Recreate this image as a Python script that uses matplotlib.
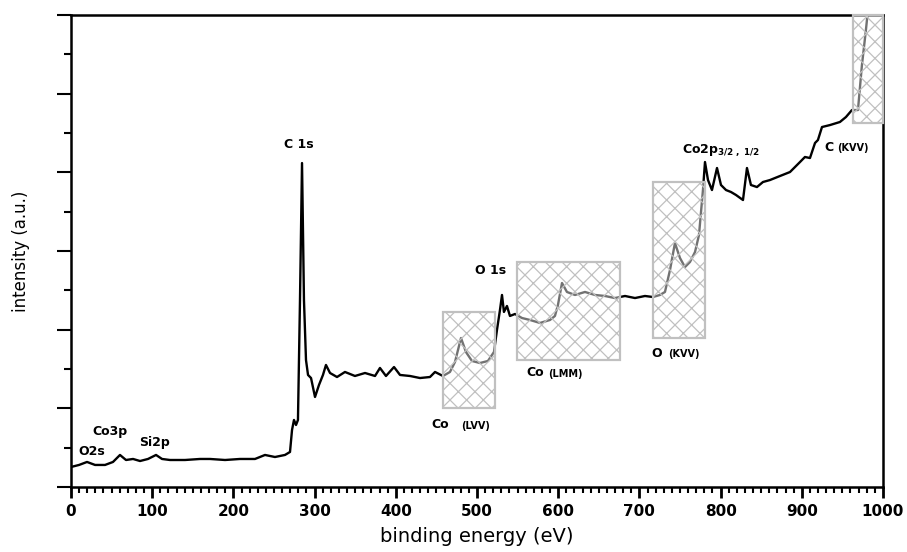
# XPS survey spectrum with shaded Auger regions.
import numpy as np
import matplotlib.pyplot as plt
from matplotlib.patches import Rectangle
from matplotlib.ticker import MultipleLocator

# Spectrum: binding energy (eV) and intensity (a.u.).
energy = [0.0, 9.9, 19.7, 29.6, 41.9, 51.7, 60.3, 67.7, 76.4, 85.0, 94.8, 104.7,
          112.1, 121.9, 140.4, 158.9, 171.2, 189.7, 208.1, 226.6, 238.9, 251.2,
          263.5, 269.7, 272.2, 274.6, 277.1, 279.5, 282.0, 284.5, 286.9, 289.4,
          291.9, 295.6, 300.5, 305.4, 310.3, 314.0, 319.0, 327.6, 337.4, 349.7,
          362.1, 374.4, 380.5, 387.9, 397.8, 405.2, 417.5, 429.8, 442.1, 448.3,
          458.1, 466.7, 472.9, 480.3, 486.4, 493.8, 503.7, 513.5, 520.9, 524.6,
          528.3, 530.8, 533.2, 536.9, 540.6, 546.8, 555.4, 565.3, 577.6, 589.9,
          596.0, 599.7, 604.7, 610.8, 620.7, 633.0, 645.3, 657.6, 669.9, 682.3,
          694.6, 706.9, 716.7, 725.3, 731.5, 737.7, 743.8, 750.0, 756.1, 762.3,
          768.5, 773.4, 778.3, 780.8, 784.5, 789.4, 795.6, 800.5, 806.7, 812.8,
          819.0, 827.6, 832.5, 837.4, 844.8, 852.2, 860.8, 873.1, 885.5, 897.8,
          903.9, 910.1, 916.3, 919.9, 924.9, 934.7, 947.0, 954.4, 961.8, 969.2,
          974.1, 979.0, 981.5]
intensity = [0.254, 0.28, 0.318, 0.28, 0.28, 0.318, 0.407, 0.343, 0.356, 0.33, 0.356, 0.407,
             0.356, 0.343, 0.343, 0.356, 0.356, 0.343, 0.356, 0.356, 0.407, 0.381,
             0.407, 0.445, 0.725, 0.852, 0.788, 0.852, 2.377, 4.118, 2.377, 1.614,
             1.424, 1.385, 1.144, 1.297, 1.424, 1.551, 1.449, 1.398, 1.462, 1.411,
             1.449, 1.411, 1.513, 1.411, 1.525, 1.424, 1.411, 1.385, 1.398, 1.462,
             1.411, 1.462, 1.589, 1.894, 1.716, 1.602, 1.576, 1.602, 1.716, 1.996,
             2.250, 2.441, 2.225, 2.301, 2.174, 2.199, 2.148, 2.123, 2.085, 2.123,
             2.174, 2.313, 2.593, 2.479, 2.441, 2.479, 2.441, 2.428, 2.402, 2.428,
             2.402, 2.428, 2.415, 2.441, 2.479, 2.758, 3.101, 2.911, 2.796, 2.860,
             2.987, 3.203, 3.775, 4.131, 3.902, 3.775, 4.055, 3.839, 3.775, 3.750,
             3.712, 3.648, 4.055, 3.839, 3.813, 3.877, 3.902, 3.953, 4.004, 4.131,
             4.195, 4.182, 4.373, 4.411, 4.576, 4.601, 4.640, 4.703, 4.792, 4.792,
             5.364, 5.809, 6.06]

# Hatched regions: (start eV, end eV, low, high).
regions = [(458, 522, 1.00, 2.22),
           (549, 676, 1.61, 2.86),
           (717, 781, 1.89, 3.88),
           (963, 1000, 4.63, 6.00)]

plt.rcParams["hatch.linewidth"] = 0.9

fig = plt.figure(figsize=(9.07, 5.52), dpi=100)
ax = fig.add_axes([0.0783, 0.1178, 0.8952, 0.855])

ax.plot(energy, intensity, color="black", lw=1.7, zorder=2)

for x0, x1, y0, y1 in regions:
    # white veil so the curve looks grey inside the box, then the hatch
    ax.add_patch(Rectangle((x0, y0), x1 - x0, y1 - y0, facecolor="white",
                           edgecolor="none", alpha=0.45, zorder=3, clip_on=False))
    ax.add_patch(Rectangle((x0, y0), x1 - x0, y1 - y0, facecolor="none",
                           edgecolor="#c0c0c0", hatch="xx", lw=1.6, zorder=4,
                           clip_on=False))

ax.set_xlim(0, 1000)
ax.set_ylim(0, 6)
ax.xaxis.set_major_locator(MultipleLocator(100))
ax.xaxis.set_minor_locator(MultipleLocator(10))
ax.yaxis.set_major_locator(MultipleLocator(1))
ax.yaxis.set_minor_locator(MultipleLocator(0.5))
ax.set_yticklabels([])
ax.tick_params(axis="x", which="major", length=8, width=2, labelsize=11, pad=4)
ax.tick_params(axis="x", which="minor", length=4, width=1.5)
ax.tick_params(axis="y", which="major", length=10, width=1.5)
ax.tick_params(axis="y", which="minor", length=5, width=1.5)
for lab in ax.get_xticklabels():
    lab.set_fontweight("bold")
for s in ax.spines.values():
    s.set_linewidth(1.8)

ax.set_xlabel("binding energy (eV)", fontsize=14, labelpad=6)
ax.set_ylabel("intensity (a.u.)", fontsize=12, labelpad=16)

# peak labels
lbl = dict(fontsize=9, fontweight="bold", zorder=5)
ax.text(281, 4.35, "C 1s", ha="center", va="center", **lbl)
ax.text(517, 2.75, "O 1s", ha="center", va="center", **lbl)
ax.text(8.6, 0.445, "O2s", ha="left", va="center", **lbl)
ax.text(25.9, 0.70, "Co3p", ha="left", va="center", **lbl)
ax.text(83.7, 0.56, "Si2p", ha="left", va="center", **lbl)
ax.text(752, 4.28, r"Co2p$_{\mathbf{3/2\ ,\ 1/2}}$", ha="left", va="center", **lbl)

small = dict(fontsize=7, fontweight="bold", zorder=5)
ax.text(444, 0.79, "Co", ha="left", va="center", **lbl)
ax.text(481, 0.78, "(LVV)", ha="left", va="center", **small)
ax.text(561, 1.45, "Co", ha="left", va="center", **lbl)
ax.text(588, 1.44, "(LMM)", ha="left", va="center", **small)
ax.text(715, 1.70, "O", ha="left", va="center", **lbl)
ax.text(736, 1.69, "(KVV)", ha="left", va="center", **small)
ax.text(928, 4.32, "C", ha="left", va="center", **lbl)
ax.text(944, 4.31, "(KVV)", ha="left", va="center", **small)

fig.savefig("out.png", dpi=100)
